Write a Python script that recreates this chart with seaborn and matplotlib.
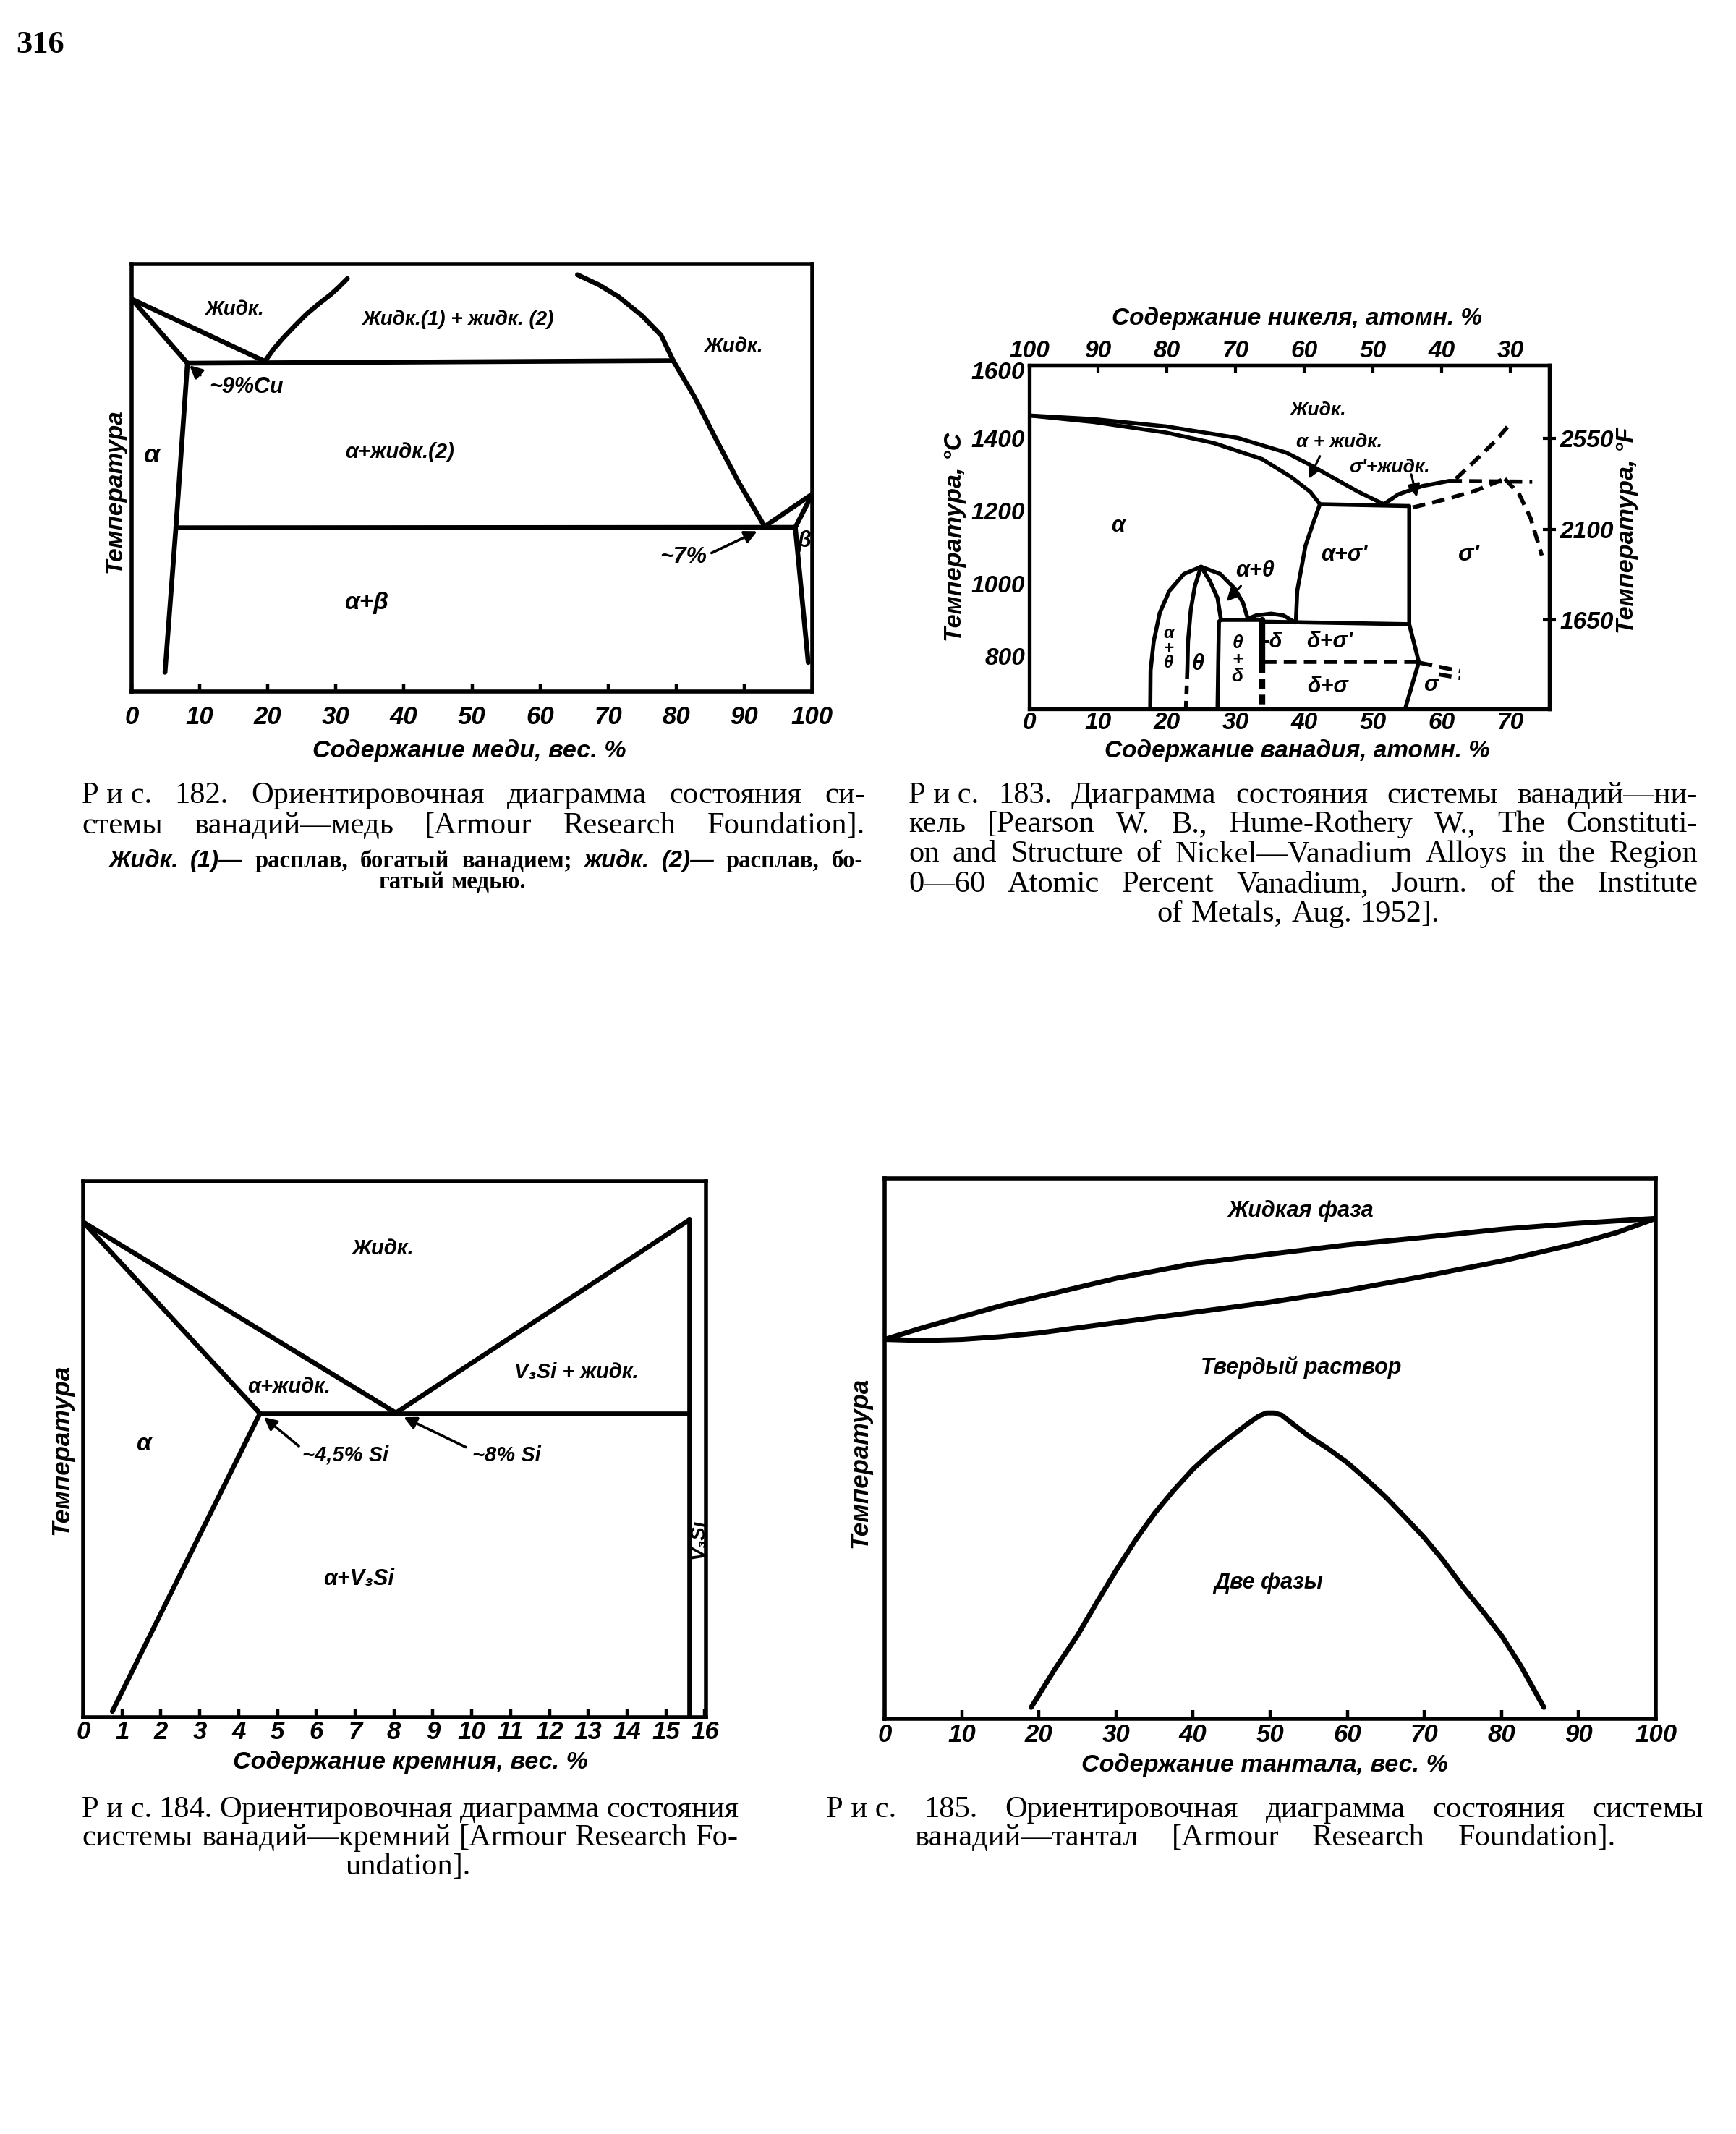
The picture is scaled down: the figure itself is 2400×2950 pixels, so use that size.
import matplotlib
matplotlib.use("Agg")
import matplotlib.pyplot as plt
import matplotlib.transforms as mtrans
import seaborn as sns

# ===================== DATA =====================
# Fig. 182  V–Cu   (x: wt.% Cu, y: relative temperature, % of axis height)
cu_ticks = [0, 10, 20, 30, 40, 50, 60, 70, 80, 90, 100]
cu_liq1_x = [0, 19.5]
cu_liq1_y = [91.8, 77.3]
cu_sol_x = [0, 8.2]
cu_sol_y = [91.8, 76.8]
cu_mono_x = [8.2, 79.6]
cu_mono_y = [76.8, 77.4]
cu_domeL_x = [19.6, 20.8, 22.2, 24.0, 25.7, 27.5, 29.2, 30.5, 31.7]
cu_domeL_y = [77.3, 80.0, 82.6, 85.6, 88.3, 90.7, 92.8, 94.7, 96.6]
cu_domeR_x = [65.5, 68.7, 71.5, 75.0, 77.8, 79.6]
cu_domeR_y = [97.5, 95.1, 92.4, 87.9, 83.3, 77.3]
cu_liq2_x = [79.6, 82.7, 85.6, 89.1, 93.0]
cu_liq2_y = [77.3, 68.9, 59.8, 49.2, 38.6]
cu_eut_x = [6.5, 97.5]
cu_eut_y = [38.3, 38.4]
cu_solv_x = [8.2, 6.5, 4.9]
cu_solv_y = [76.8, 38.3, 4.5]
cu_bliq_x = [93.0, 100]
cu_bliq_y = [38.6, 46.2]
cu_bsol_x = [100, 97.5, 99.4]
cu_bsol_y = [46.2, 38.4, 6.8]

# Fig. 183  Ni–V   (x: at.% V, y: °C)
ni_xticks = [0, 10, 20, 30, 40, 50, 60, 70]
ni_top_ticks = [100, 90, 80, 70, 60, 50, 40, 30]
ni_yticks = [800, 1000, 1200, 1400, 1600]
ni_yminor = [700, 900, 1100, 1300, 1500]
ni_fticks = [1650, 2100, 2550]
ni_liq_x = [0, 9.4, 19.9, 30.4, 37.4, 40.9, 44.4, 47.9, 51.6]
ni_liq_y = [1462, 1452, 1432, 1400, 1360, 1326, 1289, 1252, 1218]
ni_sol_x = [0, 9.4, 19.9, 26.9, 33.9, 38.1, 40.9, 42.3]
ni_sol_y = [1462, 1444, 1415, 1386, 1342, 1293, 1252, 1218]
ni_eut_x = [42.3, 55.3]
ni_eut_y = [1218, 1213]
ni_asig_x = [42.3, 41.2, 40.2, 39.0, 38.8]
ni_asig_y = [1218, 1160, 1104, 980, 893]
ni_sigR_x = [55.3, 55.3, 56.7, 54.7]
ni_sigR_y = [1213, 888, 784, 655]
ni_h900_x = [33.9, 55.3]
ni_h900_y = [895, 888]
ni_d784_x = [34.1, 56.7]
ni_d784_y = [784, 784]
ni_thOL_x = [25.0, 22.5, 20.4, 19.0, 18.1, 17.65, 17.6]
ni_thOL_y = [1046, 1026, 980, 920, 840, 761, 655]
ni_thIL_x = [25.0, 24.1, 23.5, 23.1, 23.0]
ni_thIL_y = [1046, 993, 927, 840, 761]
ni_thILd_x = [23.0, 22.8]
ni_thILd_y = [761, 655]
ni_thIR_x = [25.0, 26.3, 27.4, 27.9, 27.6, 27.4]
ni_thIR_y = [1046, 1006, 960, 900, 895, 655]
ni_thOR_x = [25.0, 27.8, 29.9, 31.1, 31.8]
ni_thOR_y = [1046, 1026, 986, 947, 903]
ni_thTop_x = [27.9, 33.9]
ni_thTop_y = [900, 900]
ni_v34_x = [33.9, 33.9]
ni_v34_y = [900, 780]
ni_v34d_x = [33.9, 33.9]
ni_v34d_y = [780, 655]
ni_ddome_x = [31.8, 33.0, 35.2, 37.0, 38.4]
ni_ddome_y = [903, 912, 917, 912, 896]
ni_sliq_x = [51.6, 53.7, 57.2, 61.1]
ni_sliq_y = [1218, 1245, 1268, 1282]
ni_sliqd_x = [62.1, 64.9, 67.8, 70.2]
ni_sliqd_y = [1288, 1338, 1391, 1444]
ni_sper_x = [61.1, 73.2]
ni_sper_y = [1282, 1280]
ni_ssol_x = [55.8, 60.7, 64.9, 69.2]
ni_ssol_y = [1209, 1232, 1255, 1288]
ni_sdesc_x = [69.2, 71.3, 73.0, 74.6]
ni_sdesc_y = [1288, 1246, 1178, 1077]
ni_eq1_x = [56.8, 62.7]
ni_eq1_y = [782, 759]
ni_eq2_x = [59.6, 62.7]
ni_eq2_y = [750, 740]

# Fig. 184  V–Si   (x: wt.% Si, y: relative temperature)
si_ticks = list(range(0, 17))
si_liqL_x = [0, 8.05]
si_liqL_y = [92.4, 56.8]
si_sol_x = [0, 4.55]
si_sol_y = [92.4, 56.7]
si_solv_x = [4.55, 0.75]
si_solv_y = [56.7, 1.1]
si_eut_x = [4.55, 15.6]
si_eut_y = [56.7, 56.7]
si_liqR_x = [8.05, 15.6]
si_liqR_y = [56.8, 92.8]
si_v3si_x = [15.6, 15.6]
si_v3si_y = [92.8, 0]

# Fig. 185  V–Ta   (x: wt.% Ta, y: relative temperature)
ta_ticks = [0, 10, 20, 30, 40, 50, 60, 70, 80, 90, 100]
ta_liq_x = [0, 5, 10, 15, 20, 30, 40, 50, 60, 70, 80, 90, 100]
ta_liq_y = [70.2, 72.4, 74.4, 76.4, 78.1, 81.5, 84.2, 86.0, 87.7, 89.1, 90.6, 91.7, 92.6]
ta_sol_x = [0, 5, 10, 15, 20, 30, 40, 50, 60, 70, 80, 90, 95, 100]
ta_sol_y = [70.2, 70.0, 70.2, 70.7, 71.4, 73.3, 75.2, 77.1, 79.3, 81.9, 84.7, 88.0, 90.0, 92.6]
ta_gap_x = [19, 22, 25, 27.5, 30, 32.5, 35, 37.5, 40, 42.5, 45, 47, 48.5, 49.5, 50.5, 51.5,
            53, 55, 57.5, 60, 62.5, 65, 67.5, 70, 72.5, 75, 77.5, 80, 82.5, 85.5]
ta_gap_y = [2.1, 9.0, 15.4, 21.5, 27.4, 33.0, 38.0, 42.3, 46.2, 49.5, 52.3, 54.5, 56.0, 56.6,
            56.6, 56.2, 54.5, 52.3, 50.0, 47.4, 44.3, 41.0, 37.3, 33.5, 29.2, 24.4, 20.0, 15.4,
            9.8, 2.1]

# ===================== STYLE =====================
sns.set_theme(style="white")
SANS = ['Liberation Sans Narrow', 'Liberation Sans', 'DejaVu Sans']
SERIF = ['Liberation Serif', 'DejaVu Serif']
plt.rcParams['font.family'] = SANS
plt.rcParams['font.style'] = 'italic'
plt.rcParams['font.weight'] = 'bold'
plt.rcParams['axes.labelweight'] = 'bold'
for k in ['text.color', 'axes.labelcolor', 'xtick.color', 'ytick.color', 'axes.edgecolor']:
    plt.rcParams[k] = 'black'

W, H, DPI = 2400, 2950, 200
fig = plt.figure(figsize=(W / DPI, H / DPI), dpi=DPI)
fig.patch.set_facecolor('white')


def make_axes(l, t, r, b, spine_lw=2.0):
    ax = fig.add_axes([l / W, 1 - b / H, (r - l) / W, (b - t) / H])
    ax.set_facecolor('white')
    for s in ax.spines.values():
        s.set_visible(True)
        s.set_color('black')
        s.set_linewidth(spine_lw)
    ax.grid(False)
    return ax


def curve(ax, xs, ys, lw=2.3, dashed=False, dash=(3.0, 1.8)):
    sns.lineplot(x=xs, y=ys, ax=ax, sort=False, estimator=None, color='black',
                 linewidth=lw, legend=False)
    ln = ax.lines[-1]
    ln.set_solid_capstyle('round')
    ln.set_solid_joinstyle('round')
    if dashed:
        ln.set_linestyle((0, dash))
        ln.set_dash_capstyle('butt')


def arrow(ax, tail, head, lw=1.3):
    ax.annotate('', xy=head, xytext=tail,
                arrowprops=dict(arrowstyle='-|>', color='black', lw=lw,
                                mutation_scale=13, shrinkA=0, shrinkB=0))


def lab(ax, x, y, s, size=10.5, **kw):
    ax.text(x, y, s, fontsize=size, ha='center', va='center', **kw)


def bottom_ticks(ax, ticks, pad, length=11, size=12.5):
    ax.set_xticks(ticks)
    ax.set_xticklabels([str(t) for t in ticks])
    ax.tick_params(axis='x', which='major', direction='in', length=length * 72 / DPI,
                   width=1.6, pad=pad, labelsize=size, bottom=True, top=False)
    ax.tick_params(axis='y', left=False, right=False, labelleft=False)


AXL = 12.3  # axis-title size

# ===================== FIG 182 =====================
ax1 = make_axes(182, 365, 1123, 956)
ax1.set_xlim(0, 100)
ax1.set_ylim(0, 100)
for xs, ys in [(cu_liq1_x, cu_liq1_y), (cu_sol_x, cu_sol_y), (cu_mono_x, cu_mono_y),
               (cu_domeL_x, cu_domeL_y), (cu_domeR_x, cu_domeR_y), (cu_liq2_x, cu_liq2_y),
               (cu_eut_x, cu_eut_y), (cu_solv_x, cu_solv_y), (cu_bliq_x, cu_bliq_y),
               (cu_bsol_x, cu_bsol_y)]:
    curve(ax1, xs, ys, lw=2.4)
bottom_ticks(ax1, cu_ticks, pad=7)
ax1.set_yticks([])
ax1.set_xlabel('Содержание меди, вес. %', fontsize=AXL)
ax1.xaxis.set_label_coords(0.496, -0.139)
ax1.xaxis.label.set_va('center')
ax1.set_ylabel('Температура', fontsize=12)
ax1.yaxis.set_label_coords(-0.024, 0.47)
ax1.yaxis.label.set_va('center')
lab(ax1, 15.1, 89.4, 'Жидк.', size=10)
lab(ax1, 47.9, 87.1, 'Жидк.(1) + жидк. (2)', size=10)
lab(ax1, 88.4, 80.7, 'Жидк.', size=10)
lab(ax1, 16.8, 71.2, '~9%Cu', size=11)
arrow(ax1, (10.1, 74.0), (8.5, 76.3))
lab(ax1, 3.0, 55.3, 'α', size=13)
lab(ax1, 39.4, 56.0, 'α+жидк.(2)')
lab(ax1, 81.0, 31.4, '~7%', size=11.5)
arrow(ax1, (85.2, 32.4), (91.9, 37.5))
lab(ax1, 98.8, 35.2, 'β', size=11)
lab(ax1, 34.5, 20.8, 'α+β', size=12)

# ===================== FIG 183 =====================
ax2 = make_axes(1423, 505, 2142, 980, spine_lw=1.9)
ax2.set_xlim(0, 75.7)
ax2.set_ylim(655, 1600)
L2 = 2.0
for xs, ys in [(ni_liq_x, ni_liq_y), (ni_sol_x, ni_sol_y), (ni_eut_x, ni_eut_y),
               (ni_asig_x, ni_asig_y), (ni_sigR_x, ni_sigR_y), (ni_h900_x, ni_h900_y),
               (ni_thOL_x, ni_thOL_y), (ni_thIL_x, ni_thIL_y), (ni_thIR_x, ni_thIR_y),
               (ni_thOR_x, ni_thOR_y), (ni_thTop_x, ni_thTop_y), (ni_ddome_x, ni_ddome_y),
               (ni_sliq_x, ni_sliq_y)]:
    curve(ax2, xs, ys, lw=L2)
curve(ax2, ni_v34_x, ni_v34_y, lw=3.0)
curve(ax2, ni_v34d_x, ni_v34d_y, lw=3.0, dashed=True, dash=(1.6, 1.0))
curve(ax2, ni_thILd_x, ni_thILd_y, lw=L2, dashed=True, dash=(2.2, 1.6))
for xs, ys in [(ni_d784_x, ni_d784_y), (ni_sliqd_x, ni_sliqd_y), (ni_sper_x, ni_sper_y),
               (ni_ssol_x, ni_ssol_y), (ni_sdesc_x, ni_sdesc_y), (ni_eq1_x, ni_eq1_y),
               (ni_eq2_x, ni_eq2_y)]:
    curve(ax2, xs, ys, lw=L2, dashed=True, dash=(3.2, 1.8))

ax2.set_xticks(ni_xticks)
ax2.set_xticklabels([str(t) for t in ni_xticks])
ax2.set_yticks(ni_yticks)
ax2.set_yticklabels([str(t) for t in ni_yticks])
ax2.set_yticks(ni_yminor, minor=True)
ax2.tick_params(axis='both', which='both', direction='in', width=1.5, labelsize=12)
ax2.tick_params(axis='x', which='major', length=10 * 72 / DPI, pad=1.5, top=False)
ax2.tick_params(axis='y', which='major', length=16 * 72 / DPI, pad=2, right=False)
ax2.tick_params(axis='y', which='minor', length=16 * 72 / DPI, right=False)
# nudge the top "1600" label slightly down, as printed
lbl1600 = ax2.get_yticklabels()[-1]
lbl1600.set_transform(lbl1600.get_transform() +
                      mtrans.ScaledTranslation(0, -7 / DPI, fig.dpi_scale_trans))
ax2.set_xlabel('Содержание ванадия, атомн. %', fontsize=12)
ax2.xaxis.set_label_coords(0.515, -0.122)
ax2.xaxis.label.set_va('center')
ax2.set_ylabel('Температура, °C', fontsize=12.3)
ax2.yaxis.set_label_coords(-0.143, 0.5)
ax2.yaxis.label.set_va('center')

top = ax2.secondary_xaxis('top', functions=(lambda v: 100 - v, lambda n: 100 - n))
top.set_xticks(ni_top_ticks)
top.set_xticklabels([str(t) for t in ni_top_ticks])
top.tick_params(direction='in', length=10 * 72 / DPI, width=1.5, pad=1.5, labelsize=12)
top.spines['top'].set_linewidth(1.9)
ax2.text(0.515, 1.137, 'Содержание никеля, атомн. %', transform=ax2.transAxes,
         fontsize=12, ha='center', va='center')

right = ax2.secondary_yaxis('right', functions=(lambda c: c * 9 / 5 + 32, lambda f: (f - 32) * 5 / 9))
right.set_yticks(ni_fticks)
right.set_yticklabels([str(t) for t in ni_fticks])
right.tick_params(direction='inout', length=18 * 72 / DPI, width=1.5, pad=2, labelsize=12)
right.spines['right'].set_linewidth(1.9)
ax2.text(1.149, 0.52, 'Температура, °F', transform=ax2.transAxes, rotation=90,
         fontsize=12.3, ha='center', va='center')

lab(ax2, 42.0, 1476, 'Жидк.', size=9.5)
lab(ax2, 45.1, 1389, 'α + жидк.', size=9.5)
arrow(ax2, (42.3, 1350), (40.7, 1288), lw=1.1)
lab(ax2, 52.4, 1319, "σ'+жидк.", size=9.5)
arrow(ax2, (55.6, 1300), (56.4, 1238), lw=1.1)
lab(ax2, 12.9, 1158, 'α', size=11)
lab(ax2, 45.8, 1079, "α+σ'", size=11)
lab(ax2, 64.0, 1079, "σ'", size=11.5)
lab(ax2, 32.9, 1034, 'α+θ', size=11)
arrow(ax2, (30.8, 993), (28.7, 951), lw=1.1)
lab(ax2, 20.3, 822, 'α\n+\nθ', size=8.5, linespacing=0.85)
lab(ax2, 24.5, 778, 'θ', size=11)
lab(ax2, 30.3, 790, 'θ\n+\nδ', size=9.5, linespacing=0.95)
lab(ax2, 35.4, 840, '-δ', size=10.5)
lab(ax2, 43.7, 840, "δ+σ'", size=11)
lab(ax2, 43.4, 716, 'δ+σ', size=11)
lab(ax2, 58.4, 720, 'σ', size=11)

# ===================== FIG 184 =====================
ax3 = make_axes(115, 1633, 976, 2374)
ax3.set_xlim(0, 16.03)
ax3.set_ylim(0, 100)
for xs, ys in [(si_liqL_x, si_liqL_y), (si_sol_x, si_sol_y), (si_solv_x, si_solv_y),
               (si_eut_x, si_eut_y), (si_liqR_x, si_liqR_y), (si_v3si_x, si_v3si_y)]:
    curve(ax3, xs, ys, lw=2.4)
bottom_ticks(ax3, si_ticks, pad=1.5, length=12)
ax3.set_yticks([])
ax3.set_xlabel('Содержание кремния, вес. %', fontsize=AXL)
ax3.xaxis.set_label_coords(0.526, -0.084)
ax3.xaxis.label.set_va('center')
ax3.set_ylabel('Температура', fontsize=12.5)
ax3.yaxis.set_label_coords(-0.035, 0.5)
ax3.yaxis.label.set_va('center')
lab(ax3, 7.7, 87.5, 'Жидк.')
lab(ax3, 12.7, 64.4, 'V₃Si + жидк.')
lab(ax3, 5.3, 61.7, 'α+жидк.')
lab(ax3, 1.55, 51.0, 'α', size=12)
lab(ax3, 6.75, 48.9, '~4,5% Si')
arrow(ax3, (5.55, 50.6), (4.65, 56.0))
lab(ax3, 10.9, 48.9, '~8% Si')
arrow(ax3, (9.85, 50.4), (8.25, 56.0))
lab(ax3, 7.1, 25.8, 'α+V₃Si', size=11)
lab(ax3, 15.84, 33.3, 'V₃Si', size=10, rotation=90)

# ===================== FIG 185 =====================
ax4 = make_axes(1223, 1629, 2289, 2376)
ax4.set_xlim(0, 100)
ax4.set_ylim(0, 100)
for xs, ys in [(ta_liq_x, ta_liq_y), (ta_sol_x, ta_sol_y), (ta_gap_x, ta_gap_y)]:
    curve(ax4, xs, ys, lw=2.5)
bottom_ticks(ax4, ta_ticks, pad=2, length=12)
ax4.set_yticks([])
ax4.set_xlabel('Содержание тантала, вес. %', fontsize=AXL)
ax4.xaxis.set_label_coords(0.493, -0.086)
ax4.xaxis.label.set_va('center')
ax4.set_ylabel('Температура', fontsize=12.5)
ax4.yaxis.set_label_coords(-0.032, 0.474)
ax4.yaxis.label.set_va('center')
lab(ax4, 54.0, 94.0, 'Жидкая фаза', size=11)
lab(ax4, 54.0, 65.0, 'Твердый раствор', size=11)
lab(ax4, 49.8, 25.2, 'Две фазы', size=11)

# ===================== CAPTIONS =====================
renderer = fig.canvas.get_renderer()


def text_line(tokens, x0, x1, yc, size, justify=True, center=None, base=None):
    base = base or dict(family=SERIF, style='normal', weight='normal')
    objs = []
    for tok in tokens:
        s, kw = (tok if isinstance(tok, tuple) else (tok, {}))
        props = dict(base)
        props.update(kw)
        objs.append(fig.text(0, 1 - yc / H, s, fontsize=size, ha='left', va='center', **props))
    ws = [o.get_window_extent(renderer).width for o in objs]
    if justify and len(objs) > 1:
        gap = (x1 - x0 - sum(ws)) / (len(objs) - 1)
        x = x0
    else:
        gap = size * DPI / 72 * 0.28
        total = sum(ws) + gap * (len(objs) - 1)
        x = center - total / 2
    for o, w in zip(objs, ws):
        o.set_x(x / W)
        x += w + gap


CS = 15.3
IT = dict(family=SANS, style='italic', weight='bold')
SB = dict(family=SERIF, style='normal', weight='bold')

cap182 = [
    ["Р и с.", "182.", "Ориентировочная", "диаграмма", "состояния", "си-"],
    ["стемы", "ванадий—медь", "[Armour", "Research", "Foundation]."],
]
text_line(cap182[0], 113, 1196, 1100, CS)
text_line(cap182[1], 113, 1196, 1142, CS)
text_line([("Жидк.", IT), ("(1)—", IT), "расплав,", "богатый", "ванадием;", ("жидк.", IT),
           ("(2)—", IT), "расплав,", "бо-"], 150, 1193, 1190, 11.8, base=SB)
text_line(["гатый", "медью."], 0, 0, 1219, 11.8, justify=False, center=625, base=SB)

cap183 = [
    ["Р и с.", "183.", "Диаграмма", "состояния", "системы", "ванадий—ни-"],
    ["кель", "[Pearson", "W.", "B.,", "Hume-Rothery", "W.,", "The", "Constituti-"],
    ["on", "and", "Structure", "of", "Nickel—Vanadium", "Alloys", "in", "the", "Region"],
    ["0—60", "Atomic", "Percent", "Vanadium,", "Journ.", "of", "the", "Institute"],
]
for i, yc in enumerate([1100, 1140, 1181, 1223]):
    text_line(cap183[i], 1256, 2347, yc, CS)
text_line(["of", "Metals,", "Aug.", "1952]."], 0, 0, 1264, CS, justify=False, center=1795)

cap184 = [
    ["Р и с.", "184.", "Ориентировочная", "диаграмма", "состояния"],
    ["системы", "ванадий—кремний", "[Armour", "Research", "Fo-"],
]
text_line(cap184[0], 113, 1021, 2502, CS)
text_line(cap184[1], 113, 1021, 2541, CS)
text_line(["undation]."], 0, 0, 2581, CS, justify=False, center=564)

cap185 = [
    ["Р и с.", "185.", "Ориентировочная", "диаграмма", "состояния", "системы"],
    ["ванадий—тантал", "[Armour", "Research", "Foundation]."],
]
text_line(cap185[0], 1142, 2355, 2502, CS)
text_line(cap185[1], 1264, 2234, 2541, CS)

fig.text(22 / W, 1 - 62 / H, '316', fontsize=16, family=SERIF, style='normal',
         weight='bold', ha='left', va='center')

fig.savefig('out.png', dpi=DPI, facecolor='white')
